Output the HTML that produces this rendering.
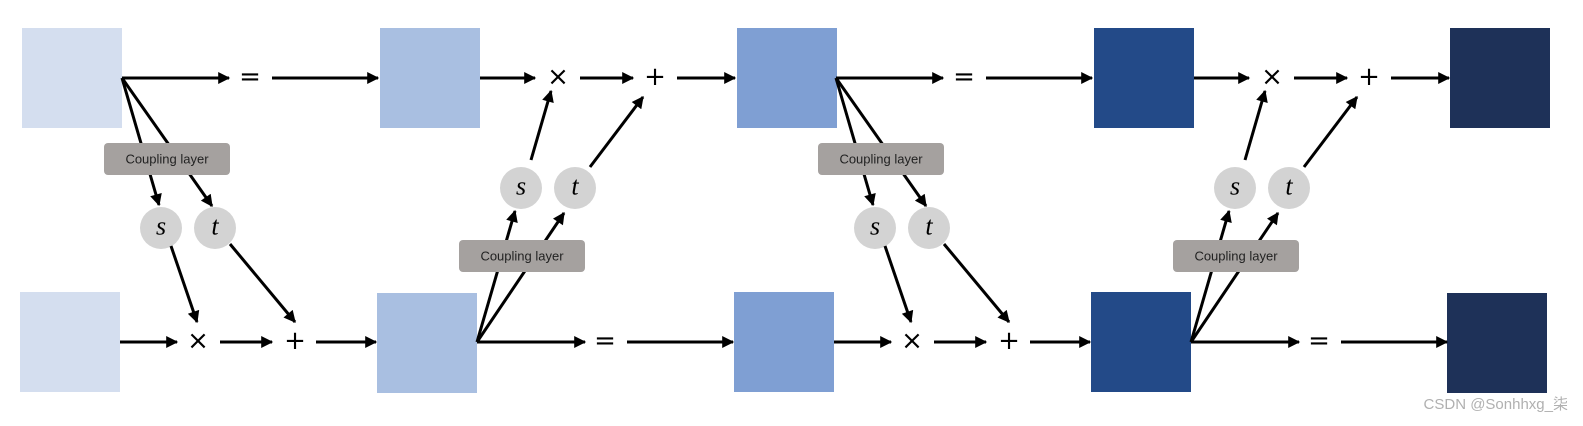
<!DOCTYPE html>
<html><head><meta charset="utf-8"><style>
html,body{margin:0;padding:0;background:#fff;width:1583px;height:426px;overflow:hidden}
svg{display:block}
.op{font-family:"DejaVu Sans","Liberation Sans",sans-serif;font-size:26px;fill:#000;text-anchor:middle;dominant-baseline:central}
.v{font-family:"Liberation Serif",serif;font-style:italic;font-size:26px;fill:#000;text-anchor:middle;dominant-baseline:central}
.cl{font-family:"Liberation Sans",sans-serif;font-size:13px;fill:#222;text-anchor:middle;dominant-baseline:central}
</style></head><body>
<svg width="1583" height="426" viewBox="0 0 1583 426">
<defs>
<marker id="a" viewBox="0 0 10 10" refX="9" refY="5" markerWidth="4.5" markerHeight="4" orient="auto" markerUnits="strokeWidth">
<path d="M0,0 L10,5 L0,10 z" fill="#000"/></marker>
<g id="sec1">
<line x1="122" y1="78" x2="229" y2="78" stroke="#000" stroke-width="3" marker-end="url(#a)"/>
<text class="op" x="250" y="77">=</text>
<line x1="272" y1="78" x2="378" y2="78" stroke="#000" stroke-width="3" marker-end="url(#a)"/>
<line x1="122" y1="78" x2="159" y2="205" stroke="#000" stroke-width="3" marker-end="url(#a)"/>
<line x1="122" y1="78" x2="212" y2="206" stroke="#000" stroke-width="3" marker-end="url(#a)"/>
<rect x="104" y="143" width="126" height="32" rx="4" fill="#a5a19f"/>
<text class="cl" x="167" y="159">Coupling layer</text>
<circle cx="161" cy="228" r="21" fill="#d3d3d3"/>
<circle cx="215" cy="228" r="21" fill="#d3d3d3"/>
<text class="v" x="161" y="226">s</text>
<text class="v" x="215" y="226">t</text>
<line x1="171" y1="246" x2="197" y2="322" stroke="#000" stroke-width="3" marker-end="url(#a)"/>
<line x1="230" y1="244" x2="295" y2="322" stroke="#000" stroke-width="3" marker-end="url(#a)"/>
<line x1="120" y1="342" x2="177" y2="342" stroke="#000" stroke-width="3" marker-end="url(#a)"/>
<text class="op" x="198" y="341">×</text>
<line x1="220" y1="342" x2="272" y2="342" stroke="#000" stroke-width="3" marker-end="url(#a)"/>
<text class="op" x="295" y="341">+</text>
<line x1="316" y1="342" x2="376" y2="342" stroke="#000" stroke-width="3" marker-end="url(#a)"/>
</g>
<g id="sec2">
<line x1="477" y1="342" x2="585" y2="342" stroke="#000" stroke-width="3" marker-end="url(#a)"/>
<text class="op" x="605" y="341">=</text>
<line x1="627" y1="342" x2="733" y2="342" stroke="#000" stroke-width="3" marker-end="url(#a)"/>
<line x1="477" y1="342" x2="515" y2="211" stroke="#000" stroke-width="3" marker-end="url(#a)"/>
<line x1="477" y1="342" x2="564" y2="213" stroke="#000" stroke-width="3" marker-end="url(#a)"/>
<rect x="459" y="240" width="126" height="32" rx="4" fill="#a5a19f"/>
<text class="cl" x="522" y="256">Coupling layer</text>
<circle cx="521" cy="188" r="21" fill="#d3d3d3"/>
<circle cx="575" cy="188" r="21" fill="#d3d3d3"/>
<text class="v" x="521" y="186">s</text>
<text class="v" x="575" y="186">t</text>
<line x1="531" y1="160" x2="551" y2="91" stroke="#000" stroke-width="3" marker-end="url(#a)"/>
<line x1="590" y1="167" x2="643" y2="97" stroke="#000" stroke-width="3" marker-end="url(#a)"/>
<line x1="480" y1="78" x2="535" y2="78" stroke="#000" stroke-width="3" marker-end="url(#a)"/>
<text class="op" x="558" y="77">×</text>
<line x1="580" y1="78" x2="633" y2="78" stroke="#000" stroke-width="3" marker-end="url(#a)"/>
<text class="op" x="655" y="77">+</text>
<line x1="677" y1="78" x2="735" y2="78" stroke="#000" stroke-width="3" marker-end="url(#a)"/>
</g>
</defs>
<rect x="22" y="28" width="100" height="100" fill="#d4deef"/>
<rect x="380" y="28" width="100" height="100" fill="#a9bfe1"/>
<rect x="737" y="28" width="100" height="100" fill="#7f9fd3"/>
<rect x="1094" y="28" width="100" height="100" fill="#234a88"/>
<rect x="1450" y="28" width="100" height="100" fill="#1e3158"/>
<rect x="20" y="292" width="100" height="100" fill="#d4deef"/>
<rect x="377" y="293" width="100" height="100" fill="#a9bfe1"/>
<rect x="734" y="292" width="100" height="100" fill="#7f9fd3"/>
<rect x="1091" y="292" width="100" height="100" fill="#234a88"/>
<rect x="1447" y="293" width="100" height="100" fill="#1e3158"/>
<use href="#sec1"/>
<use href="#sec2"/>
<use href="#sec1" transform="translate(714,0)"/>
<use href="#sec2" transform="translate(714,0)"/>
<text x="1568" y="409" text-anchor="end" style="font-family:'Liberation Sans','Noto Sans CJK SC',sans-serif;font-size:15px;fill:#b0b0b0">CSDN @Sonhhxg_柒</text>
</svg>
</body></html>
